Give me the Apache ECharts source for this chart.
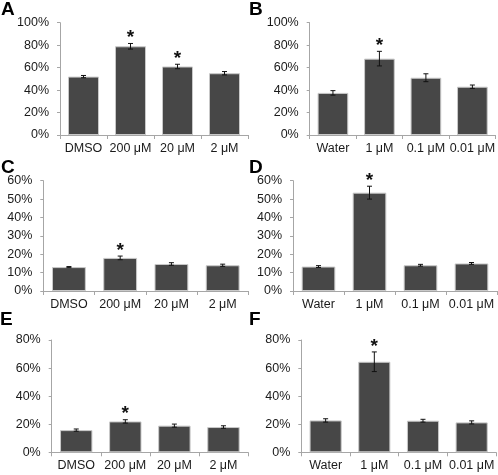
<!DOCTYPE html>
<html><head><meta charset="utf-8">
<script src="https://cdn.jsdelivr.net/npm/echarts@6/dist/echarts.min.js"></script>
<style>html,body{margin:0;padding:0;background:#fff}#c{width:498px;height:475px}</style>
</head><body><div id="c"></div>
<script>
// Categories
const catsDMSO = ['DMSO', '200 μM', '20 μM', '2 μM'];
const catsWater = ['Water', '1 μM', '0.1 μM', '0.01 μM'];

// Panel values (%), errors (%), significance flags
const valuesA = [52, 79, 61, 55];
const errorsA = [1, 2.5, 2, 1.5];
const sigA = [0, 1, 1, 0];

const valuesB = [37.5, 68, 51, 43];
const errorsB = [2, 6.5, 3.5, 1.5];
const sigB = [0, 1, 0, 0];

const valuesC = [13, 18, 14.7, 14];
const errorsC = [0.3, 1, 0.7, 0.6];
const sigC = [0, 1, 0, 0];

const valuesD = [13.3, 53.5, 14, 15];
const errorsD = [0.5, 3.5, 0.5, 0.5];
const sigD = [0, 1, 0, 0];

const valuesE = [15.8, 22, 19, 18];
const errorsE = [0.8, 1.2, 1.1, 0.9];
const sigE = [0, 1, 0, 0];

const valuesF = [22.7, 64.5, 22.5, 21.3];
const errorsF = [1.2, 7, 1, 1.1];
const sigF = [0, 1, 0, 0];

// Y-axis ranges
const yMaxAB = 100, yStepAB = 20;
const yMaxCD = 60, yStepCD = 10;
const yMaxEF = 80, yStepEF = 20;

const panelLetters = ['A', 'B', 'C', 'D', 'E', 'F'];

const panels = [
  {cats: catsDMSO, v: valuesA, e: errorsA, s: sigA, max: yMaxAB, step: yStepAB, grid: {left: 60, top: 22.7, width: 188, height: 112.3}, letter: [1, 0.5]},
  {cats: catsWater, v: valuesB, e: errorsB, s: sigB, max: yMaxAB, step: yStepAB, grid: {left: 309.7, top: 22.7, width: 186.6, height: 112.3}, letter: [249, 0.5]},
  {cats: catsDMSO, v: valuesC, e: errorsC, s: sigC, max: yMaxCD, step: yStepCD, grid: {left: 43.3, top: 180.7, width: 205, height: 110.3}, letter: [1, 158.5]},
  {cats: catsWater, v: valuesD, e: errorsD, s: sigD, max: yMaxCD, step: yStepCD, grid: {left: 293, top: 180.7, width: 204, height: 110.3}, letter: [249, 158.5]},
  {cats: catsDMSO, v: valuesE, e: errorsE, s: sigE, max: yMaxEF, step: yStepEF, grid: {left: 51.7, top: 340, width: 196.3, height: 112.3}, letter: [0, 310]},
  {cats: catsWater, v: valuesF, e: errorsF, s: sigF, max: yMaxEF, step: yStepEF, grid: {left: 301.3, top: 340, width: 194.7, height: 112.3}, letter: [249, 310]}
];

const FONT = 'Liberation Sans, Arial, sans-serif';
const axisGray = '#a6a6a6';
const grids = [], xAxes = [], yAxes = [], series = [], graphics = [];

panels.forEach((p, i) => {
  grids.push(Object.assign({containLabel: false}, p.grid));
  xAxes.push({
    type: 'category', gridIndex: i, data: p.cats,
    axisLine: {show: true, lineStyle: {color: axisGray, width: 1}},
    axisTick: {show: true, length: 4, alignWithLabel: false, lineStyle: {color: axisGray}},
    axisLabel: {color: '#1a1a1a', fontSize: 12.5, fontFamily: FONT, margin: 7, interval: 0}
  });
  yAxes.push({
    type: 'value', gridIndex: i, min: 0, max: p.max, interval: p.step,
    axisLine: {show: true, lineStyle: {color: axisGray, width: 1}},
    axisTick: {show: true, length: 3, lineStyle: {color: axisGray}},
    splitLine: {show: false},
    axisLabel: {color: '#1a1a1a', fontSize: 12.5, fontFamily: FONT, margin: 11, formatter: '{value}%'}
  });
  series.push({
    type: 'bar', xAxisIndex: i, yAxisIndex: i, data: p.v,
    barCategoryGap: '34%',
    itemStyle: {color: '#474747', borderColor: '#c9c9c9', borderWidth: 1},
    silent: true, animation: false
  });
  series.push({
    type: 'custom', xAxisIndex: i, yAxisIndex: i,
    data: p.v.map((v, k) => [k, v, p.e[k], p.s[k]]),
    encode: {x: 0, y: 1},
    renderItem: function (params, api) {
      const x = api.value(0), y = api.value(1), e = api.value(2), s = api.value(3);
      const top = api.coord([x, y + e]);
      const bot = api.coord([x, y - e]);
      const hw = 2.5;
      const st = {stroke: '#111', lineWidth: 1};
      const children = [
        {type: 'line', shape: {x1: top[0], y1: top[1], x2: bot[0], y2: bot[1]}, style: st},
        {type: 'line', shape: {x1: top[0] - hw, y1: top[1], x2: top[0] + hw, y2: top[1]}, style: st},
        {type: 'line', shape: {x1: bot[0] - hw, y1: bot[1], x2: bot[0] + hw, y2: bot[1]}, style: st}
      ];
      if (s) {
        children.push({type: 'text', x: top[0], y: top[1] - 15,
          style: {text: '*', fill: '#111', font: 'bold 19px ' + FONT, align: 'center', verticalAlign: 'top'}
        });
      }
      return {type: 'group', children: children};
    },
    silent: true, animation: false, z: 5
  });
  graphics.push({
    type: 'text', left: p.letter[0], top: p.letter[1],
    style: {text: panelLetters[i], fill: '#000', font: 'bold 19px ' + FONT}
  });
});

const chart = echarts.init(document.getElementById('c'), null, {renderer: 'canvas'});
chart.setOption({
  animation: false,
  grid: grids, xAxis: xAxes, yAxis: yAxes, series: series, graphic: graphics
});
</script>
</body></html>
